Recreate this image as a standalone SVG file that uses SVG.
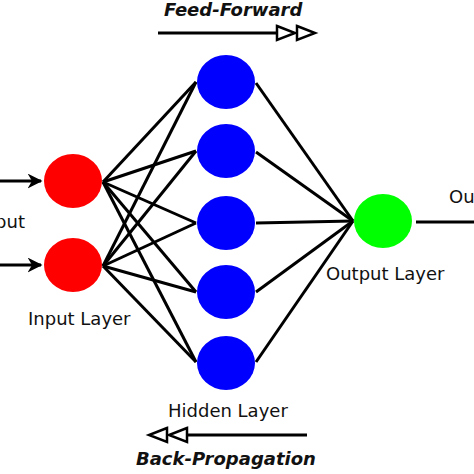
<svg xmlns="http://www.w3.org/2000/svg" width="474" height="474" viewBox="0 0 474 474">
<defs>
<style>
.lbl{font-family:"DejaVu Sans",Verdana,sans-serif;font-size:18px;fill:#111}
.ttl{font-family:"DejaVu Sans",Verdana,sans-serif;font-size:18px;font-weight:bold;font-style:italic;fill:#111}
.ln{stroke:#000;stroke-width:3;fill:none}
.tri{stroke:#000;stroke-width:2.5;fill:#fff}
</style>
<marker id="ah" viewBox="0 0 10 10" refX="9" refY="5" markerWidth="5" markerHeight="5" orient="auto" markerUnits="strokeWidth">
<path d="M0,0 L10,5 L0,10 L3,5 Z" fill="#000"/>
</marker>
</defs>
<rect width="474" height="474" fill="#fff"/>
<g id="connectors">
<line class="ln" x1="0" y1="181" x2="41" y2="181" marker-end="url(#ah)"/>
<line class="ln" x1="0" y1="265" x2="41" y2="265" marker-end="url(#ah)"/>
<line class="ln" x1="103" y1="182" x2="196" y2="82"/>
<line class="ln" x1="103" y1="182" x2="196" y2="151"/>
<line class="ln" x1="103" y1="182" x2="196" y2="223"/>
<line class="ln" x1="103" y1="182" x2="196" y2="292"/>
<line class="ln" x1="103" y1="182" x2="196" y2="362"/>
<line class="ln" x1="103" y1="266" x2="196" y2="82"/>
<line class="ln" x1="103" y1="266" x2="196" y2="151"/>
<line class="ln" x1="103" y1="266" x2="196" y2="223"/>
<line class="ln" x1="103" y1="266" x2="196" y2="292"/>
<line class="ln" x1="103" y1="266" x2="196" y2="362"/>
<line class="ln" x1="256" y1="83" x2="353" y2="221"/>
<line class="ln" x1="256" y1="152" x2="353" y2="221"/>
<line class="ln" x1="256" y1="223" x2="353" y2="221"/>
<line class="ln" x1="256" y1="292" x2="353" y2="221"/>
<line class="ln" x1="256" y1="362" x2="353" y2="221"/>
<line class="ln" x1="416" y1="222" x2="474" y2="222"/>
</g>
<g id="input1"><ellipse cx="73" cy="181" rx="29" ry="27" fill="#f00"/></g>
<g id="input2"><ellipse cx="73" cy="265" rx="29" ry="27" fill="#f00"/></g>
<g id="hidden1"><ellipse cx="226" cy="82" rx="29" ry="27" fill="#00f"/></g>
<g id="hidden2"><ellipse cx="226" cy="151" rx="29" ry="27" fill="#00f"/></g>
<g id="hidden3"><ellipse cx="226" cy="223" rx="29" ry="27" fill="#00f"/></g>
<g id="hidden4"><ellipse cx="226" cy="292" rx="29" ry="27" fill="#00f"/></g>
<g id="hidden5"><ellipse cx="226" cy="363" rx="29" ry="27" fill="#00f"/></g>
<g id="output"><ellipse cx="383" cy="221" rx="29" ry="27" fill="#0f0"/></g>
<g id="labels">
<text class="lbl" x="25" y="228" text-anchor="end">Input</text>
<text class="lbl" x="449" y="203">Output</text>
<text class="lbl" x="28" y="325">Input Layer</text>
<text class="lbl" x="168" y="417">Hidden Layer</text>
<text class="lbl" x="326" y="280">Output Layer</text>
</g>
<g id="feedforward">
<text class="ttl" x="164" y="16">Feed-Forward</text>
<line class="ln" x1="158" y1="33" x2="277" y2="33"/>
<polygon class="tri" points="277,26 295,33 277,40"/>
<polygon class="tri" points="297,26 315,33 297,40"/>
</g>
<g id="backprop">
<text class="ttl" x="136" y="465">Back-Propagation</text>
<line class="ln" x1="187" y1="435" x2="307" y2="435"/>
<polygon class="tri" points="187,428 169,435 187,442"/>
<polygon class="tri" points="167,428 149,435 167,442"/>
</g>
</svg>
